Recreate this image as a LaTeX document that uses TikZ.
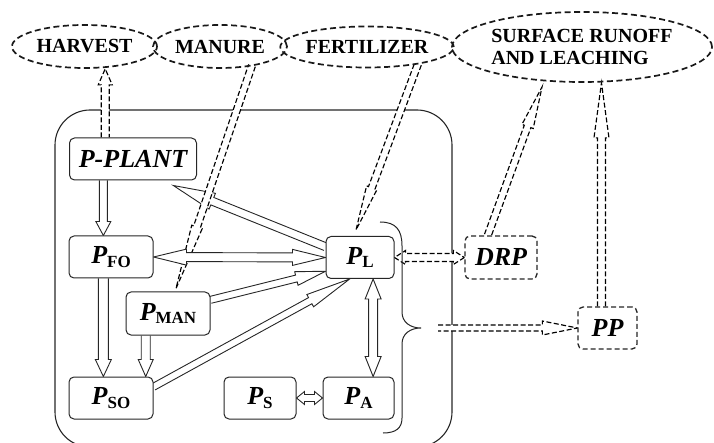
\documentclass[tikz,border=0pt]{standalone}
\usepackage{fontspec}
\setmainfont{Liberation Serif}
\usetikzlibrary{shapes.geometric,calc}
\pgfdeclarelayer{bg}
\pgfsetlayers{bg,main}
\newcommand\Psub[1]{P\raisebox{-3.5pt}{\fontsize{17}{17}\selectfont\upshape\bfseries #1}}
% single-headed hollow arrow: [style]{from}{to}{shaft half width}{head length}{head half width}
\newcommand\sarr[6][]{%
  \coordinate (hA) at (#2);
  \coordinate (hB) at (#3);
  \coordinate (hC) at ($(hB)!#5!(hA)$);
  \draw[arr,#1] ($(hA)!#4!90:(hB)$) -- ($(hC)!#4!-90:(hA)$) -- ($(hC)!#6!-90:(hA)$) -- (hB)
     -- ($(hC)!#6!90:(hA)$) -- ($(hC)!#4!90:(hA)$) -- ($(hA)!#4!-90:(hB)$);
}
% double-headed hollow arrow
\newcommand\darr[6][]{%
  \coordinate (hA) at (#2);
  \coordinate (hB) at (#3);
  \coordinate (hC) at ($(hB)!#5!(hA)$);
  \coordinate (hD) at ($(hA)!#5!(hB)$);
  \draw[arr,#1] (hB) -- ($(hC)!#6!90:(hA)$) -- ($(hC)!#4!90:(hA)$) -- ($(hD)!#4!-90:(hB)$)
     -- ($(hD)!#6!-90:(hB)$) -- (hA) -- ($(hD)!#6!90:(hB)$) -- ($(hD)!#4!90:(hB)$)
     -- ($(hC)!#4!-90:(hA)$) -- ($(hC)!#6!-90:(hA)$) -- cycle;
}
\begin{document}
\begin{tikzpicture}[x=1pt,y=-1pt,
  ell/.style={ellipse, draw=black!90, line width=1.7pt, dash pattern=on 6pt off 3.5pt, inner sep=0pt,
    font=\fontsize{20}{22}\selectfont\bfseries},
  pbox/.style={draw=black!85, line width=1pt, rounded corners=5pt, fill=white, inner sep=0pt,
    font=\fontsize{26}{28}\selectfont\bfseries\itshape},
  dbox/.style={pbox, line width=1.3pt, dash pattern=on 5pt off 3pt},
  arr/.style={draw=black!85, line width=0.9pt, fill=white, line join=miter},
  darrow/.style={draw=black, line width=1.15pt, dash pattern=on 5pt off 2.5pt}]
\useasboundingbox (0,0) rectangle (714,443);
% sources / sinks
\node[ell, minimum width=145pt, minimum height=43pt] (harvest) at (84.5,46.5) {HARVEST};
\node[ell, minimum width=134pt, minimum height=43pt] (manure) at (220,46.5) {MANURE};
\node[ell, minimum width=170pt, minimum height=41pt] (fert) at (367,47) {FERTILIZER};
\node[ell, minimum width=260pt, minimum height=70pt, align=left] (surf) at (582,47) {SURFACE RUNOFF\\AND LEACHING};
% pools
\node[pbox, minimum width=127pt, minimum height=42pt] (pplant) at (133,159) {P-PLANT};
\node[pbox, minimum width=84pt, minimum height=42pt] (pfo) at (111,257) {\Psub{FO}};
\node[pbox, minimum width=68pt, minimum height=42pt] (pl) at (360,257.5) {\Psub{L}};
\node[pbox, minimum width=84pt, minimum height=43pt] (pman) at (168,313.5) {\Psub{MAN}};
\node[pbox, minimum width=84pt, minimum height=42pt] (pso) at (111,398) {\Psub{SO}};
\node[pbox, minimum width=72pt, minimum height=42pt] (ps) at (260,398) {\Psub{S}};
\node[pbox, minimum width=71pt, minimum height=42pt] (pa) at (358.5,398) {\Psub{A}};
\node[dbox, minimum width=72pt, minimum height=43pt] (drp) at (501,257.5) {DRP};
\node[dbox, minimum width=59pt, minimum height=42pt] (pp) at (607.5,328) {PP};
% brace
\draw[black!85, line width=1pt] (380,222) .. controls (396,222) and (402,230) .. (402,246) -- (402,312)
  .. controls (402,322) and (410,328) .. (421,328) .. controls (410,328) and (402,334) .. (402,344)
  -- (402,418) .. controls (402,428) and (396,433) .. (383,433);
\coordinate (bt) at (438,328);
\begin{pgfonlayer}{bg}
\node[draw=black!85, line width=1.1pt, rounded corners=35pt, minimum width=397pt, minimum height=337pt, inner sep=0pt] (soil) at (253.5,278.5) {};
\coordinate (a1) at ($(pplant.north west)!0.283!(pplant.north east)$);
\sarr[darrow]{a1}{harvest.south -| a1}{4pt}{16pt}{7pt}
\coordinate (a2) at ($(pfo.north west)!0.41!(pfo.north east)$);
\sarr{pplant.south -| a2}{a2}{4pt}{14pt}{7.5pt}
\coordinate (a3s) at ($(pl.north west)!0.25!(pl.south west)$);
\coordinate (a3e) at ($(pplant.south west)!0.815!(pplant.south east)+(0,5)$);
\sarr{a3s}{a3e}{4pt}{42pt}{8.5pt}
\coordinate (a15s) at ($(manure.center)+(32,19)$);
\coordinate (a15e) at ($(pman.north)+(8,-3)$);
\sarr[darrow]{a15s}{a15e}{3.5pt}{65pt}{5.5pt}
\darr{pfo.east}{pl.west}{4.5pt}{33pt}{8pt}
\coordinate (a5s) at ($(pman.north east)!0.19!(pman.south east)$);
\coordinate (a5e) at ($(pl.south west)!0.18!(pl.north west)$);
\sarr{a5s}{a5e}{3.5pt}{30pt}{7pt}
\coordinate (a6s) at ($(pso.north east)!0.24!(pso.south east)$);
\coordinate (a6e) at ($(pl.south west)!0.35!(pl.south east)$);
\sarr{a6s}{a6e}{3.5pt}{45pt}{7pt}
\sarr{pfo.south -| a2}{pso.north -| a2}{5pt}{17pt}{8pt}
\coordinate (a8) at ($(pman.south west)!0.238!(pman.south east)$);
\sarr{a8}{pso.north -| a8}{4.5pt}{17pt}{7.5pt}
\coordinate (a9) at ($(pl.south west)!0.69!(pl.south east)$);
\darr{a9}{pa.north -| a9}{4.5pt}{20pt}{8pt}
\darr{ps.east}{pa.west}{3.5pt}{8pt}{6.5pt}
\darr[darrow]{pl.east}{drp.west}{4pt}{11pt}{7pt}
\coordinate (a12s) at ($(drp.north west)!0.32!(drp.north east)$);
\coordinate (a12e) at ($(surf.center)+(-40,40)$);
\sarr[darrow]{a12s}{a12e}{3.5pt}{42pt}{6pt}
\coordinate (a13) at ($(pp.north west)!0.4!(pp.north east)$);
\sarr[darrow]{a13}{surf.south -| a13}{4pt}{55pt}{7.5pt}
\sarr[darrow]{bt}{pp.west}{3pt}{35pt}{7pt}
\coordinate (a16s) at ($(fert.center)+(51,17)$);
\coordinate (a16e) at ($(pl.north)+(-4,-6)$);
\sarr[darrow]{a16s}{a16e}{3.5pt}{45pt}{5.5pt}
\end{pgfonlayer}
\end{tikzpicture}
\end{document}
